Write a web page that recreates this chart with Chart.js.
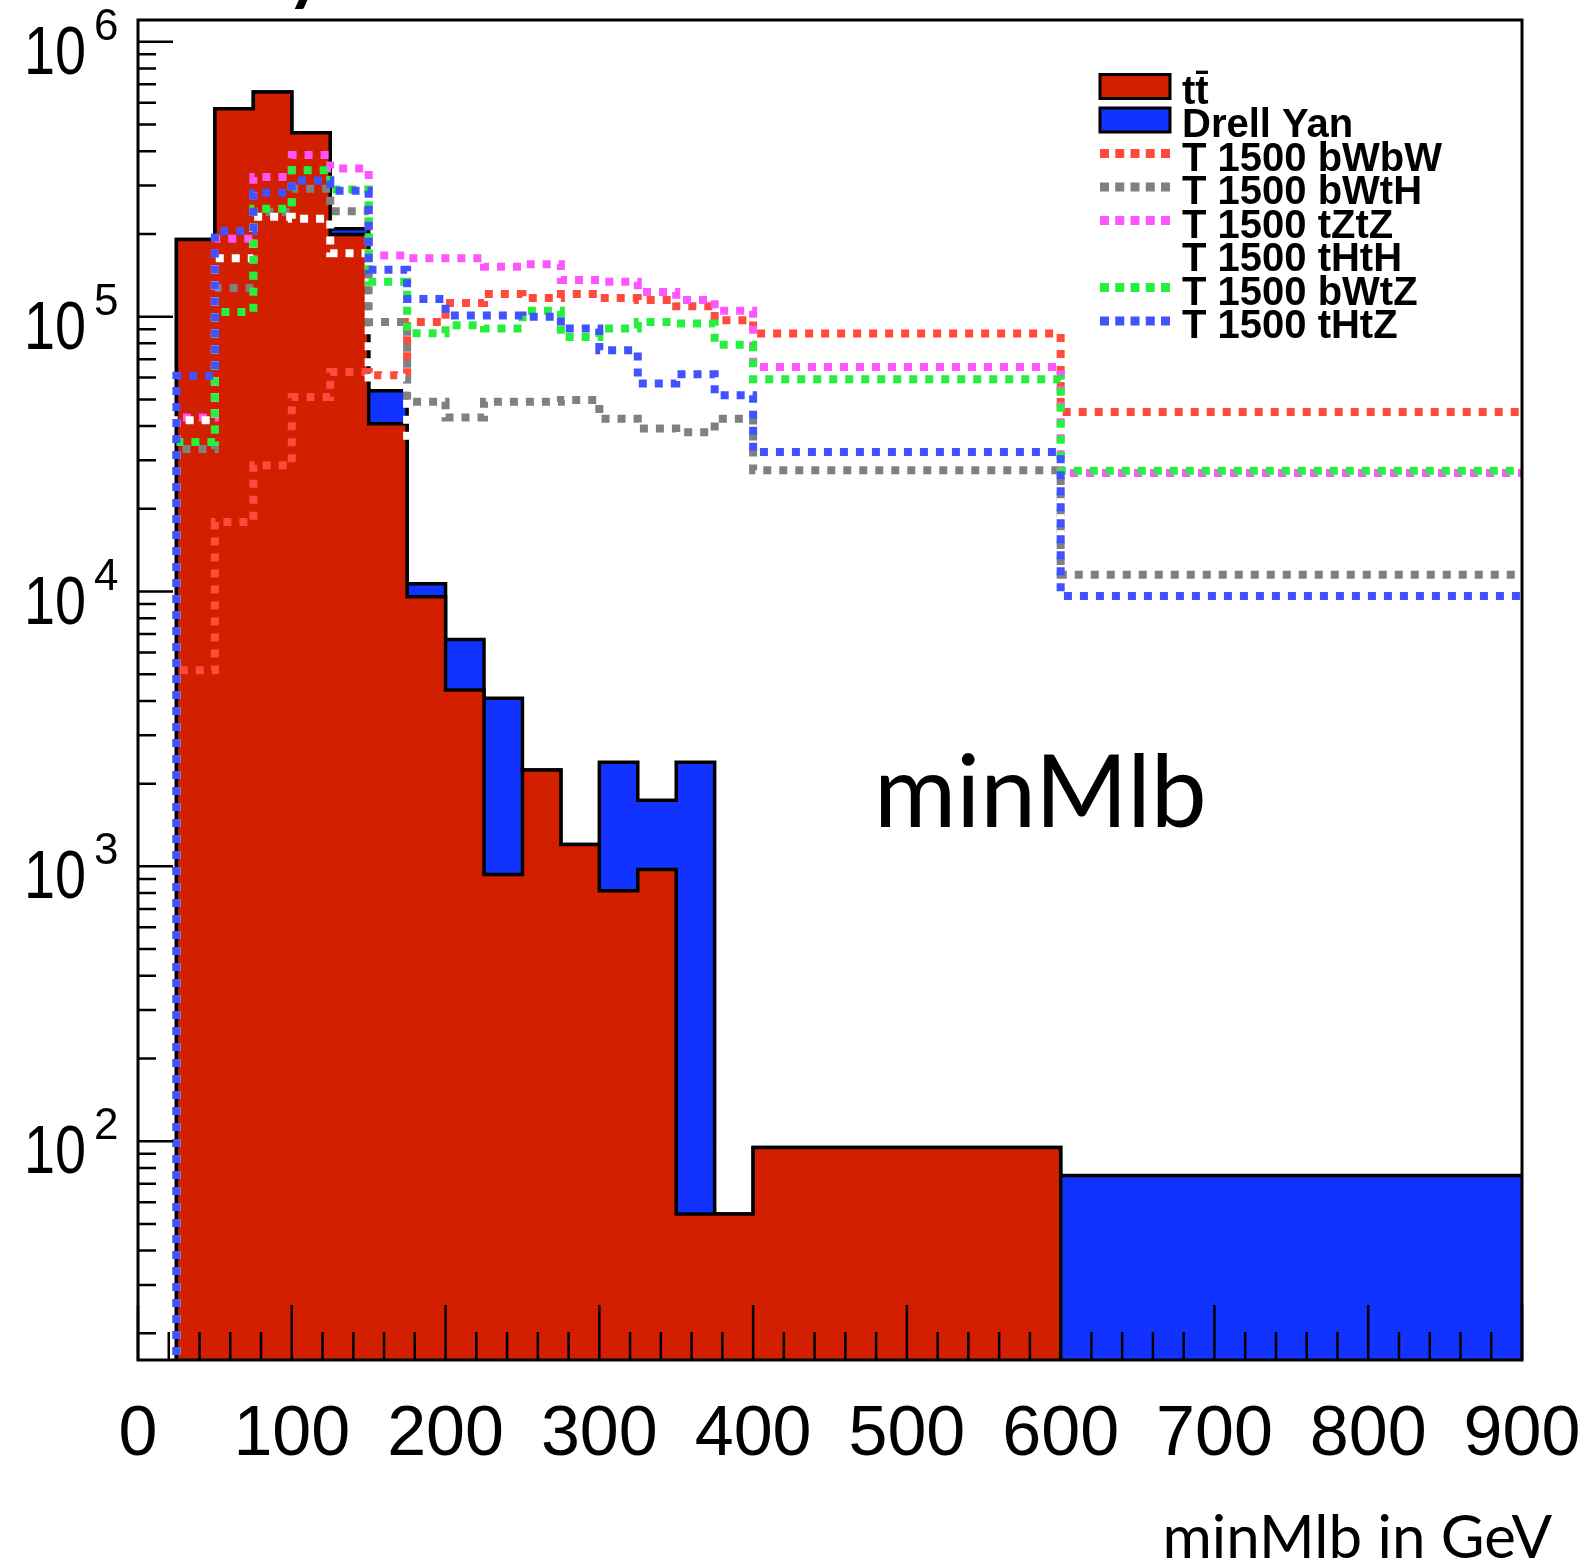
<!DOCTYPE html>
<html>
<head>
<meta charset="utf-8">
<title>minMlb</title>
<script src="https://cdn.jsdelivr.net/npm/chart.js@4.4.1/dist/chart.umd.min.js"></script>
<style>
  html, body { margin: 0; padding: 0; background: #fff; }
  canvas { display: block; }
</style>
</head>
<body>
<canvas id="minMlbChart" width="1583" height="1566"></canvas>
<script>
// Histogram bins in GeV: 25 GeV wide up to 400, then two wide bins
const binEdges = [25, 50, 75, 100, 125, 150, 175, 200, 225, 250, 275, 300, 325, 350, 375, 400, 600, 900];

// Backgrounds (stacked)
const ttbar = [1.91e5, 5.71e5, 6.57e5, 4.67e5, 1.99e5, 4.08e4, 9.56e3, 4.38e3, 935, 2240, 1200, 815, 974, 54.4, 54.4, 94.8, 0];
const drellYan = [0, 0, 0, 0, 1.0e4, 1.29e4, 1100, 2310, 3150, 0, 0, 1575, 766, 2336, 0, 0, 75.1];

// Signals, T mass 1500 GeV
const bWbW = [5.17e3, 1.79e4, 2.88e4, 5.1e4, 6.29e4, 6.12e4, 9.57e4, 1.12e5, 1.21e5, 1.17e5, 1.21e5, 1.17e5, 1.15e5, 1.09e5, 9.7e4, 8.68e4, 4.5e4];
const bWtH = [3.3e4, 1.27e5, 2.4e5, 2.92e5, 2.42e5, 9.57e4, 4.9e4, 4.3e4, 4.9e4, 4.9e4, 4.97e4, 4.25e4, 3.92e4, 3.8e4, 4.25e4, 2.76e4, 1.15e4];
const tZtZ = [4.3e4, 1.92e5, 3.22e5, 3.87e5, 3.46e5, 1.67e5, 1.63e5, 1.63e5, 1.52e5, 1.55e5, 1.36e5, 1.34e5, 1.23e5, 1.15e5, 1.05e5, 6.56e4, 2.7e4];
const tHtH = [4.2e4, 1.63e5, 2.31e5, 2.27e5, 1.7e5, 6.0e4, 3.5e4, 3.2e4, 3.0e4, 3.0e4, 2.9e4, 2.7e4, 2.6e4, 2.5e4, 2.4e4, 2.2e4, 1.6e4];
const bWtZ = [3.5e4, 1.04e5, 2.47e5, 3.41e5, 2.9e5, 1.34e5, 8.7e4, 9.3e4, 9.06e4, 1.05e5, 8.43e4, 9.06e4, 9.57e4, 9.45e4, 7.9e4, 5.92e4, 2.75e4];
const tHtZ = [6.1e4, 2.05e5, 2.82e5, 3.13e5, 2.87e5, 1.48e5, 1.16e5, 1.01e5, 1.01e5, 1.0e5, 9.05e4, 7.55e4, 5.71e4, 6.17e4, 5.18e4, 3.22e4, 9.64e3];

// Axis labels
const xTickLabels = ["0", "100", "200", "300", "400", "500", "600", "700", "800", "900"];
const yTickExponents = [2, 3, 4, 5, 6];

// Empty bins are sent below the axis floor so the step drops out of the frame
const EMPTY = 1;

function histPoints(values) {
  const last = values.length - 1;
  const points = [{ x: binEdges[0], y: EMPTY }];
  values.forEach((v, i) => points.push({ x: binEdges[i], y: v > 0 ? v : EMPTY }));
  points.push({ x: binEdges[last + 1], y: values[last] > 0 ? values[last] : EMPTY });
  return points;
}

const stackTotal = ttbar.map((v, i) => v + drellYan[i]);

function filledHist(label, values, color, order) {
  return {
    label: label,
    data: histPoints(values),
    stepped: true,
    fill: "start",
    backgroundColor: color,
    borderColor: "#000",
    borderWidth: 3.5,
    pointRadius: 0,
    order: order,
  };
}

function dottedHist(label, values, color, order) {
  return {
    label: label,
    data: histPoints(values),
    stepped: true,
    fill: false,
    borderColor: color,
    borderWidth: 8,
    borderDash: [8, 8],
    borderCapStyle: "butt",
    pointRadius: 0,
    order: order,
  };
}

const datasets = [
  filledHist("tt\u0304", ttbar, "#d21f00", 6),
  filledHist("Drell Yan", stackTotal, "#1232ff", 7),
  dottedHist("T 1500 bWbW", bWbW, "#ff4b3e", 5),
  dottedHist("T 1500 bWtH", bWtH, "#808080", 4),
  dottedHist("T 1500 tZtZ", tZtZ, "#ff55ff", 3),
  dottedHist("T 1500 tHtH", tHtH, "#ffffff", 2),
  dottedHist("T 1500 bWtZ", bWtZ, "#27ef3d", 1),
  dottedHist("T 1500 tHtZ", tHtZ, "#4152ff", 0),
];

// ROOT-like frame, inward ticks, labels and legend
const rootStyle = {
  id: "rootStyle",
  afterDraw(chart) {
    const ctx = chart.ctx;
    const area = chart.chartArea;
    const xs = chart.scales.x;
    const ys = chart.scales.y;
    ctx.save();

    // ticks
    ctx.strokeStyle = "#000";
    ctx.lineWidth = 2.5;
    ctx.beginPath();
    for (let k = 0; k * 20 <= xs.max; k++) {
      const px = xs.getPixelForValue(k * 20);
      const len = k % 5 === 0 ? 55 : 28;
      ctx.moveTo(px, area.bottom);
      ctx.lineTo(px, area.bottom - len);
    }
    for (let e = 1; e <= 6; e++) {
      for (let m = 1; m <= 9; m++) {
        const v = m * Math.pow(10, e);
        if (v < ys.min || v > ys.max) continue;
        const py = ys.getPixelForValue(v);
        ctx.moveTo(area.left, py);
        ctx.lineTo(area.left + (m === 1 ? 35 : 18), py);
      }
    }
    ctx.stroke();

    // frame
    ctx.lineWidth = 3;
    ctx.strokeRect(area.left, area.top, area.right - area.left, area.bottom - area.top);

    // x labels
    ctx.fillStyle = "#000";
    ctx.font = '70px "Liberation Sans"';
    ctx.textAlign = "center";
    ctx.textBaseline = "alphabetic";
    xTickLabels.forEach((t) => {
      ctx.fillText(t, xs.getPixelForValue(Number(t)), 1455);
    });

    // y labels 10^n (the "10" is a bit condensed in the original)
    yTickExponents.forEach((e) => {
      const py = ys.getPixelForValue(Math.pow(10, e));
      ctx.save();
      ctx.translate(86, py + 32);
      ctx.scale(0.82, 1);
      ctx.font = '68px "Liberation Sans"';
      ctx.textAlign = "right";
      ctx.fillText("10", 0, 0);
      ctx.restore();
      ctx.font = '44px "Liberation Sans"';
      ctx.textAlign = "left";
      ctx.fillText(String(e), 94, py - 2);
    });

    // texts
    ctx.font = '100px "Lato"';
    ctx.textAlign = "left";
    ctx.fillText("minMlb", 874, 827);
    ctx.font = '60px "Lato"';
    ctx.textAlign = "right";
    ctx.fillText("minMlb in GeV", 1552, 1558);
    // slide title, cut by the top edge (only a descender shows)
    ctx.font = '100px "Lato"';
    ctx.textAlign = "left";
    ctx.fillText("y", 282, -8);

    drawLegend(chart);
    ctx.restore();
  },
};

function drawLegend(chart) {
  const ctx = chart.ctx;
  const left = 1100;
  const sampleW = 70;
  ctx.font = 'bold 40px "Liberation Sans"';
  ctx.textAlign = "left";
  chart.data.datasets.forEach((ds, i) => {
    const cy = 88.5 + 33.5 * i;
    if (ds.fill) {
      ctx.fillStyle = ds.backgroundColor;
      ctx.fillRect(left, cy - 14, sampleW, 24);
      ctx.strokeStyle = "#000";
      ctx.lineWidth = 3;
      ctx.setLineDash([]);
      ctx.strokeRect(left, cy - 14, sampleW, 24);
    } else {
      ctx.strokeStyle = ds.borderColor;
      ctx.lineWidth = 9;
      ctx.setLineDash([9, 6.25]);
      ctx.beginPath();
      ctx.moveTo(left, cy - 2);
      ctx.lineTo(left + sampleW, cy - 2);
      ctx.stroke();
      ctx.setLineDash([]);
    }
    ctx.fillStyle = "#000";
    ctx.fillText(ds.label, 1182, cy + 15);
  });
}

const ctx = document.getElementById("minMlbChart").getContext("2d");
const minMlbChart = new Chart(ctx, {
  type: "line",
  data: { datasets: datasets },
  options: {
    responsive: false,
    animation: false,
    events: [],
    layout: { padding: { left: 138, top: 20, right: 61, bottom: 206 } },
    scales: {
      x: { type: "linear", min: 0, max: 900, display: false },
      y: { type: "logarithmic", min: 16, max: 1.2e6, display: false },
    },
    plugins: {
      legend: { display: false },
      tooltip: { enabled: false },
    },
  },
  plugins: [rootStyle],
});
</script>
</body>
</html>
